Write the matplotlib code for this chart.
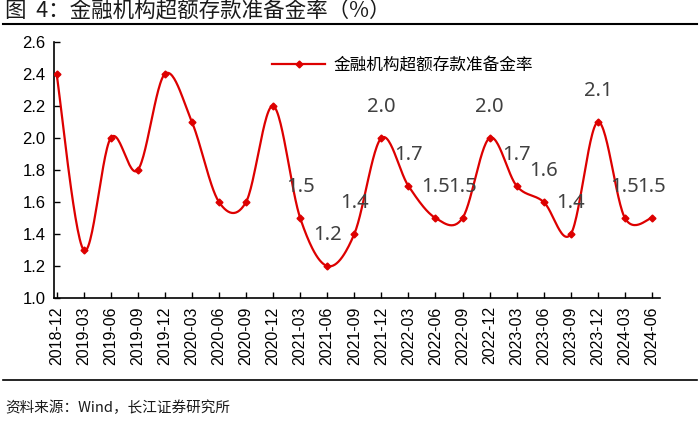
import numpy as np
import matplotlib
matplotlib.use("Agg")
import matplotlib.pyplot as plt
from matplotlib.lines import Line2D

plt.rcParams['font.family'] = ['Noto Sans CJK SC', 'DejaVu Sans']

# 数据
dates = ["2018-12", "2019-03", "2019-06", "2019-09", "2019-12", "2020-03",
         "2020-06", "2020-09", "2020-12", "2021-03", "2021-06", "2021-09",
         "2021-12", "2022-03", "2022-06", "2022-09", "2022-12", "2023-03",
         "2023-06", "2023-09", "2023-12", "2024-03", "2024-06"]
ratio = [2.4, 1.3, 2.0, 1.8, 2.4, 2.1, 1.6, 1.6, 2.2, 1.5, 1.2, 1.4,
         2.0, 1.7, 1.5, 1.5, 2.0, 1.7, 1.6, 1.4, 2.1, 1.5, 1.5]
first_label = "2021-03"

red = "#DD0000"


def smooth(x, y, n=30):
    # 平滑曲线 (Catmull-Rom, 类似 Excel 的平滑线)
    x = np.asarray(x, float)
    y = np.asarray(y, float)
    px = np.concatenate([[x[0]], x, [x[-1]]])
    py = np.concatenate([[y[0]], y, [y[-1]]])
    xs, ys = [], []
    t = np.linspace(0, 1, n)
    for i in range(1, len(px) - 2):
        p0, p1, p2, p3 = [np.array([px[j], py[j]]) for j in (i - 1, i, i + 1, i + 2)]
        c1 = p1 + (p2 - p0) / 6
        c2 = p2 - (p3 - p1) / 6
        b = ((1 - t) ** 3)[:, None] * p1 + (3 * (1 - t) ** 2 * t)[:, None] * c1 \
            + (3 * (1 - t) * t ** 2)[:, None] * c2 + (t ** 3)[:, None] * p2
        xs.extend(b[:, 0])
        ys.extend(b[:, 1])
    return np.array(xs), np.array(ys)


x = np.arange(len(dates))
sx, sy = smooth(x, ratio)

fig = plt.figure(figsize=(7, 4.23), dpi=100)
ax = fig.add_axes([0.077, 0.2955, 0.866, 0.6052])

ax.plot(sx, sy, color=red, lw=1.6, zorder=3)
ax.plot(x, ratio, ls="none", marker="D", ms=3.5, color=red, zorder=4)

start = dates.index(first_label)
for i in range(start, len(dates)):
    ax.annotate(f"{ratio[i]:.1f}", (x[i], ratio[i]), xytext=(0, 22),
                textcoords="offset points", ha="center", va="center",
                fontsize=14.5, color="#404040", family=["Noto Sans", "DejaVu Sans"])

ax.set_xlim(-0.1, 22.3)
ax.set_ylim(1.0, 2.6)
ax.set_yticks(np.arange(1.0, 2.61, 0.2))
ax.set_yticklabels([f"{v:.1f}" for v in np.arange(1.0, 2.61, 0.2)],
                   family=["Liberation Sans", "DejaVu Sans"], fontsize=12)
ax.set_xticks(x)
ax.set_xticklabels(dates, rotation=90, family=["Liberation Sans", "DejaVu Sans"],
                   fontsize=11.5)
ax.tick_params(direction="in", length=4, width=1, color="black", pad=6)
for s in ("top", "right"):
    ax.spines[s].set_visible(False)
for s in ("left", "bottom"):
    ax.spines[s].set_linewidth(1.2)

handle = Line2D([], [], color=red, lw=1.6, marker="D", ms=3.5)
ax.legend([handle], ["金融机构超额存款准备金率"], loc="upper left",
          bbox_to_anchor=(0.335, 1.0), frameon=False, fontsize=12,
          handlelength=3.2, handletextpad=0.5)

# 标题和来源
fig.text(0.007, 0.972, "图  4：金融机构超额存款准备金率（%）", fontsize=15.5,
         color="#1a1a1a", va="center", ha="left")
fig.add_artist(Line2D([0.004, 0.996], [0.943, 0.943], color="black", lw=1.5))
fig.add_artist(Line2D([0.004, 0.996], [0.101, 0.101], color="black", lw=1.2))
fig.text(0.007, 0.035, "资料来源：Wind，长江证券研究所", fontsize=10.5,
         color="#1a1a1a", va="center", ha="left")

fig.savefig("out.png", dpi=100)
